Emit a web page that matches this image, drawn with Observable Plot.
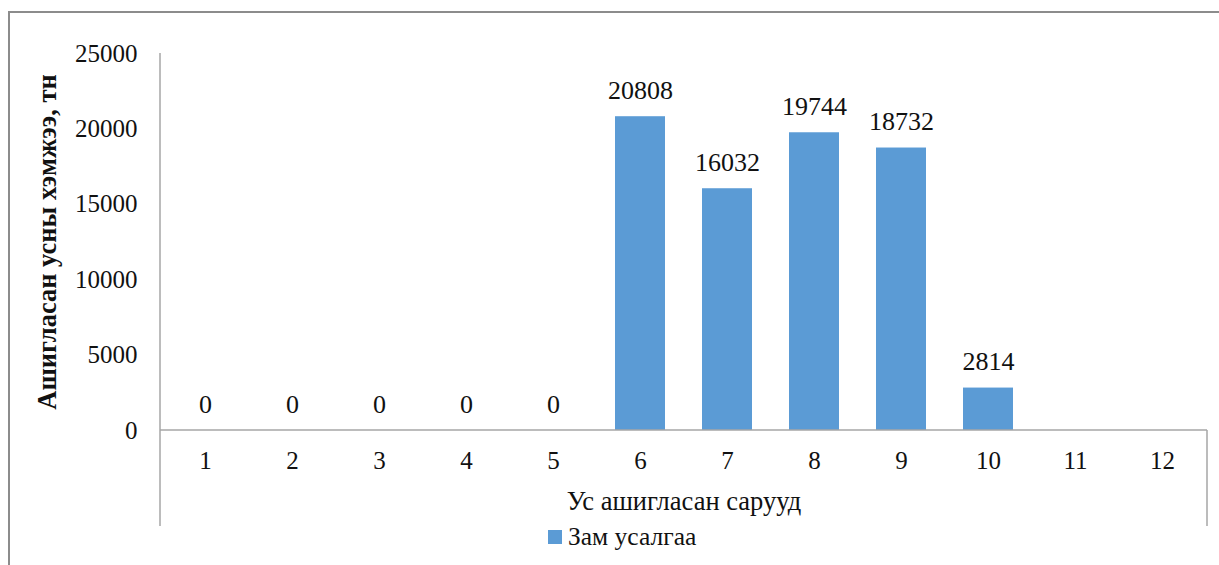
<!DOCTYPE html>
<html>
<head>
<meta charset="utf-8">
<script src="https://cdn.jsdelivr.net/npm/d3@7"></script>
<script src="https://cdn.jsdelivr.net/npm/@observablehq/plot@0.6"></script>
<style>
  html, body { margin: 0; padding: 0; background: #fff; }
  #wrap { position: relative; width: 1219px; height: 565px; overflow: hidden; font-family: "Liberation Serif", "Times New Roman", serif; }
  #border { position: absolute; left: 8px; top: 11px; width: 1300px; height: 700px; border-left: 2px solid #8c8c8c; border-top: 2px solid #8c8c8c; }
  #chart { position: absolute; left: 0; top: 0; }
  #legend { position: absolute; left: 548px; top: 522px; font-size: 25.5px; color: #111; display: flex; align-items: center; white-space: nowrap; }
  #legend .sw { width: 14px; height: 14px; background: #5b9bd5; margin-right: 6px; }
</style>
</head>
<body>
<div id="wrap">
  <div id="border"></div>
  <div id="chart"></div>
  <div id="legend"><span class="sw"></span><span id="legendText"></span></div>
</div>
<script>
const months = ["1","2","3","4","5","6","7","8","9","10","11","12"];
const values = [0, 0, 0, 0, 0, 20808, 16032, 19744, 18732, 2814, null, null];
const yTicks = [0, 5000, 10000, 15000, 20000, 25000];
const seriesName = "Зам усалгаа";
const yTitle = "Ашигласан усны хэмжээ, тн";
const xTitle = "Ус ашигласан сарууд";

const data = months.map((m, i) => ({month: m, value: values[i]}));
const labeled = data.filter(d => d.value !== null);

document.getElementById("legendText").textContent = seriesName;

const font = "'Liberation Serif', 'Times New Roman', serif";

const extraLines = (index, scales, values, dim) => {
  const g = d3.create("svg:g").attr("stroke", "#a6a6a6").attr("stroke-width", 1.5);
  const x0 = dim.marginLeft, x1 = dim.width - dim.marginRight;
  const yTop = dim.marginTop, yBase = dim.height - dim.marginBottom;
  const yBottom = yBase + 96;
  g.append("line").attr("x1", x0).attr("x2", x0).attr("y1", yTop).attr("y2", yBottom);
  g.append("line").attr("x1", x1).attr("x2", x1).attr("y1", yBase).attr("y2", yBottom);
  g.append("line").attr("x1", x0).attr("x2", x1).attr("y1", yBase).attr("y2", yBase);
  return g.node();
};

const chart = Plot.plot({
  width: 1219,
  height: 565,
  marginLeft: 160,
  marginRight: 12,
  marginTop: 53,
  marginBottom: 135,
  style: {fontFamily: font, fontSize: "25px", color: "#111", background: "transparent", overflow: "visible"},
  x: {domain: months, paddingInner: 0.43, paddingOuter: 0.215, label: null},
  y: {domain: [0, 25000], label: null},
  marks: [
    Plot.barY(data.filter(d => d.value), {x: "month", y: "value", fill: "#5b9bd5"}),
    Plot.axisY({ticks: yTicks, tickSize: 0, tickPadding: 23, tickFormat: d => String(d), fontSize: 25, label: null}),
    Plot.axisX({tickSize: 0, tickPadding: 21, fontSize: 25, label: null}),
    extraLines,
    Plot.text(labeled, {x: "month", y: "value", text: d => String(d.value), dy: -26, fontSize: 26, fill: "#111"}),
    Plot.text([yTitle], {frameAnchor: "left", text: d => d, rotate: -90, textAnchor: "middle", dx: -113, fontWeight: "bold", fontSize: 26.5, fill: "#111"}),
    Plot.text([xTitle], {frameAnchor: "bottom", text: d => d, dy: 79, fontSize: 26.5, fill: "#111"})
  ]
});
document.getElementById("chart").appendChild(chart);
</script>
</body>
</html>
